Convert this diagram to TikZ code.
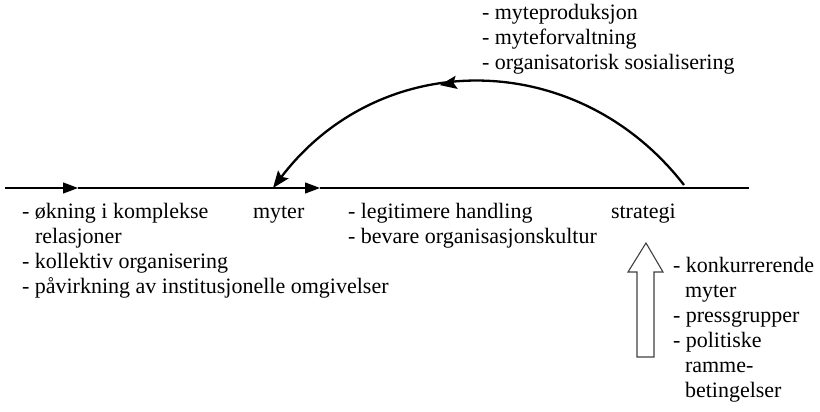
\documentclass[tikz,border=0pt]{standalone}
\usepackage{fontspec}
\setmainfont{Liberation Serif}
\usetikzlibrary{arrows.meta,decorations.markings}

\begin{document}
\begin{tikzpicture}[x=1pt,y=-1pt,
  lbl/.style={anchor=base west,inner sep=0pt,outer sep=0pt,
    font=\rmfamily\fontsize{22}{25}\selectfont},
  axis/.style={line width=1.2pt},
  flowtip/.style={-{Triangle[length=15pt,width=11pt]}},
  arc/.style={line width=2.3pt,-{Stealth[length=17pt,width=13pt,inset=3pt]}},
  hollow/.style={draw=black!75,line width=1.1pt,fill=white}]

\useasboundingbox (0,0) rectangle (820,412);

% time axis with two flow arrows
\coordinate (axL) at (5,188);
\coordinate (tipA) at (78,188);
\coordinate (tipB) at (320,188);
\coordinate (axR) at (749,188);
\draw[axis,flowtip] (axL) -- (tipA);
\draw[axis,flowtip] (tipA) -- (tipB);
\draw[axis] (tipB) -- (axR);

% feedback arc from strategi back to myter
\coordinate (arcS) at (684,185);
\coordinate (arcE) at (273,188);
\draw[arc,postaction={decorate},
  decoration={markings,mark=at position 0.58 with
    {\arrow{Stealth[length=17pt,width=13pt,inset=3pt]}}}]
  (arcS) .. controls (577,47) and (380,47) .. (arcE);

% upward block arrow into strategi
\draw[hollow] (637,357) -- (637,272) -- (628,272) -- (646,243)
  -- (663,272) -- (654,272) -- (654,357) -- cycle;

% labels above the arc
\node[lbl] (t1) at (482,20) {- myteproduksjon};
\node[lbl] (t2) at (482,45) {- myteforvaltning};
\node[lbl] (t3) at (482,70) {- organisatorisk sosialisering};

% labels under the axis
\node[lbl] (a1) at (22,218) {- økning i komplekse};
\node[lbl] (a2) at (35,243) {relasjoner};
\node[lbl] (a3) at (22,268) {- kollektiv organisering};
\node[lbl] (a4) at (22,293) {- påvirkning av institusjonelle omgivelser};

\node[lbl] (myter) at (253,218) {myter};

\node[lbl] (b1) at (348,218) {- legitimere handling};
\node[lbl] (b2) at (348,243) {- bevare organisasjonskultur};

\node[lbl] (strategi) at (611,218) {strategi};

% labels beside the block arrow
\node[lbl] (c1) at (673,272) {- konkurrerende};
\node[lbl] (c2) at (685,297) {myter};
\node[lbl] (c3) at (673,322) {- pressgrupper};
\node[lbl] (c4) at (673,347) {- politiske};
\node[lbl] (c5) at (685,372) {ramme-};
\node[lbl] (c6) at (685,397) {betingelser};
\end{tikzpicture}
\end{document}
